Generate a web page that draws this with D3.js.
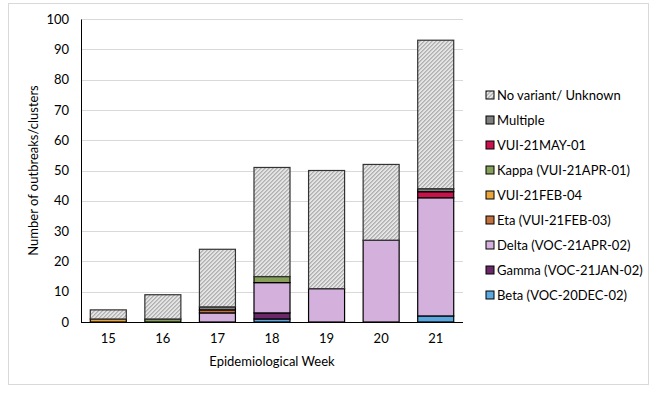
<!DOCTYPE html>
<html>
<head>
<meta charset="utf-8">
<script src="https://cdn.jsdelivr.net/npm/d3@7"></script>
<style>
  body { margin: 0; background: #fff; }
  text { font-family: Lato, "Open Sans", sans-serif; fill: #000; }
</style>
</head>
<body>
<svg id="chart" width="654" height="394"></svg>
<script>
// data
var weeks = ["15", "16", "17", "18", "19", "20", "21"];
var variants = ["Beta (VOC-20DEC-02)", "Gamma (VOC-21JAN-02)", "Delta (VOC-21APR-02)",
    "Eta (VUI-21FEB-03)", "VUI-21FEB-04", "Kappa (VUI-21APR-01)", "VUI-21MAY-01",
    "Multiple", "No variant/ Unknown"];
var beta     = [0, 0, 0, 1, 0, 0, 2];
var gamma    = [0, 0, 0, 2, 0, 0, 0];
var delta    = [0, 0, 3, 10, 11, 27, 39];
var eta      = [0, 0, 1, 0, 0, 0, 0];
var vuiFeb04 = [1, 0, 0, 0, 0, 0, 0];
var kappa    = [0, 1, 0, 2, 0, 0, 0];
var vuiMay01 = [0, 0, 0, 0, 0, 0, 2];
var multiple = [0, 0, 1, 0, 0, 0, 1];
var unknown  = [3, 8, 19, 36, 39, 25, 49];
var yTicks = [0, 10, 20, 30, 40, 50, 60, 70, 80, 90, 100];

var series = [beta, gamma, delta, eta, vuiFeb04, kappa, vuiMay01, multiple, unknown];
var colors = ["#5BA8DE", "#6A2868", "#D4B0DD", "#C2703C", "#E9A53C", "#86A05A",
    "#C9124C", "#7F7F7F", "url(#hatch)"];

// build rows for the stack
var rows = weeks.map(function(w, i) {
    var r = { week: w };
    variants.forEach(function(v, j) { r[v] = series[j][i]; });
    return r;
});

var svg = d3.select("#chart");

// hatch pattern for unknown
var defs = svg.append("defs");
var pat = defs.append("pattern")
    .attr("id", "hatch")
    .attr("patternUnits", "userSpaceOnUse")
    .attr("width", 2.83).attr("height", 4)
    .attr("patternTransform", "rotate(45)");
pat.append("rect").attr("width", 2.83).attr("height", 4).attr("fill", "#fafafa");
pat.append("line").attr("x1", 0.8).attr("y1", 0).attr("x2", 0.8).attr("y2", 4)
    .attr("stroke", "#a6a6a6").attr("stroke-width", 1.4);

// outer frame
svg.append("rect")
    .attr("x", 8.5).attr("y", 3.5).attr("width", 640).attr("height", 381)
    .attr("fill", "none").attr("stroke", "#d9d9d9");

var plotLeft = 81, plotRight = 463, plotTop = 19, plotBottom = 322;

var x = d3.scaleBand().domain(weeks).range([plotLeft, plotRight]).paddingInner(0.34).paddingOuter(0.17);
var y = d3.scaleLinear().domain([0, 100]).range([plotBottom, plotTop]);

// gridlines
svg.append("g").selectAll("line")
    .data(yTicks.slice(1))
    .join("line")
    .attr("x1", plotLeft).attr("x2", plotRight)
    .attr("y1", function(d) { return Math.round(y(d)) + 0.5; })
    .attr("y2", function(d) { return Math.round(y(d)) + 0.5; })
    .attr("stroke", "#d9d9d9");

var stack = d3.stack().keys(variants)(rows);

var g = svg.append("g");
stack.forEach(function(layer, j) {
    g.append("g").selectAll("rect")
        .data(layer.filter(function(d) { return d[1] - d[0] > 0; }))
        .join("rect")
        .attr("x", function(d) { return x(d.data.week); })
        .attr("width", x.bandwidth())
        .attr("y", function(d) { return y(d[1]); })
        .attr("height", function(d) { return y(d[0]) - y(d[1]); })
        .attr("fill", colors[j])
        .attr("stroke", j == 8 ? "#333" : "#000")
        .attr("stroke-width", 1.2);
});

// y axis
var yAxis = svg.append("g")
    .attr("transform", "translate(" + plotLeft + ",0)")
    .call(d3.axisLeft(y).tickValues(yTicks).tickSize(0).tickPadding(12));
yAxis.select(".domain").attr("stroke", "#000");
yAxis.selectAll("text").style("font-size", "13px").style("font-family", "Lato, 'Open Sans', sans-serif");

// x axis
var xAxis = svg.append("g")
    .attr("transform", "translate(0," + plotBottom + ")")
    .call(d3.axisBottom(x).tickSize(0).tickPadding(12));
xAxis.select(".domain").attr("stroke", "#000").attr("d", "M" + plotLeft + ",0.5H" + plotRight);
xAxis.selectAll("text").style("font-size", "13px").style("font-family", "Lato, 'Open Sans', sans-serif");

// axis titles
svg.append("text")
    .attr("transform", "translate(38," + ((plotTop + plotBottom) / 2) + ") rotate(-90)")
    .attr("text-anchor", "middle")
    .style("font-size", "13px")
    .text("Number of outbreaks/clusters");
svg.append("text")
    .attr("x", (plotLeft + plotRight) / 2).attr("y", 366)
    .attr("text-anchor", "middle")
    .style("font-size", "13px")
    .text("Epidemiological Week");

// legend, top-down reversed order
var legendItems = variants.map(function(v, j) { return { name: v, color: colors[j] }; }).reverse();
var legend = svg.append("g").selectAll("g")
    .data(legendItems)
    .join("g")
    .attr("transform", function(d, i) { return "translate(486," + (95 + i * 25) + ")"; });
legend.append("rect")
    .attr("x", 0).attr("y", -4).attr("width", 8).attr("height", 8)
    .attr("fill", function(d) { return d.color; })
    .attr("stroke", "#000").attr("stroke-width", 1);
legend.append("text")
    .attr("x", 11).attr("y", 0).attr("dy", "0.35em")
    .style("font-size", "13px")
    .text(function(d) { return d.name; });
</script>
</body>
</html>
